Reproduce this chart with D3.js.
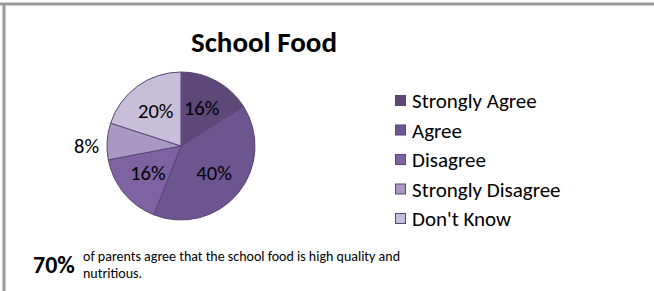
<!DOCTYPE html>
<html>
<head>
<meta charset="utf-8">
<script src="https://cdnjs.cloudflare.com/ajax/libs/d3/7.8.5/d3.min.js"></script>
<style>
  body { margin: 0; background: #fff; }
  text { font-family: Carlito, Lato, "Open Sans", sans-serif; }
</style>
</head>
<body>
<div id="chart"></div>
<script>
var categories = ["Strongly Agree", "Agree", "Disagree", "Strongly Disagree", "Don't Know"],
    values = [16, 40, 16, 8, 20],
    colors = ["#5e4878", "#6d5590", "#7e62a2", "#a898c2", "#c7bed9"];

var width = 654,
    height = 291,
    svg = d3.select('#chart')
        .append('svg')
        .attr('width', width)
        .attr('height', height);

// frame lines top and left
svg.append('line')
    .attr('x1', 0).attr('x2', width).attr('y1', 4).attr('y2', 4)
    .attr('stroke', '#9a9a9a').attr('stroke-width', 3);
svg.append('line')
    .attr('x1', 4).attr('x2', 4).attr('y1', 3).attr('y2', height)
    .attr('stroke', '#9a9a9a').attr('stroke-width', 3);

svg.append('text')
    .attr('x', 264).attr('y', 52)
    .attr('text-anchor', 'middle')
    .style('font-size', '29px')
    .style('font-weight', 'bold')
    .text('School Food');

var cx = 181, cy = 146, radius = 74;

var pie = d3.pie().sort(null).value(function (d) { return d; }),
    arcs = pie(values),
    arc = d3.arc().innerRadius(0).outerRadius(radius),
    labelArc = d3.arc().innerRadius(radius * 0.58).outerRadius(radius * 0.58);

var g = svg.append('g').attr('transform', 'translate(' + cx + ',' + cy + ')');

g.selectAll('path')
    .data(arcs)
    .enter()
    .append('path')
    .attr('d', arc)
    .attr('fill', function (d, i) { return colors[i]; })
    .attr('stroke', '#5a4577')
    .attr('stroke-width', 1);

g.selectAll('text.lbl')
    .data(arcs)
    .enter()
    .append('text')
    .classed('lbl', true)
    .style('font-size', '20.5px')
    .attr('dominant-baseline', 'central')
    .attr('text-anchor', function (d) { return d.data < 10 ? 'end' : 'middle'; })
    .attr('transform', function (d) {
        if (d.data < 10) {
            var a = (d.startAngle + d.endAngle) / 2;
            return 'translate(' + (Math.sin(a) * (radius + 8)) + ',0)';
        }
        var c = labelArc.centroid(d);
        return 'translate(' + c[0] + ',' + c[1] + ')';
    })
    .text(function (d) { return d.data + '%'; });

// legend
var legend = svg.append('g').attr('transform', 'translate(395,101)');
var rows = legend.selectAll('g')
    .data(categories)
    .enter()
    .append('g')
    .attr('transform', function (d, i) { return 'translate(0,' + (i * 29.5) + ')'; });

rows.append('rect')
    .attr('x', 0.5).attr('y', -5.5)
    .attr('width', 10).attr('height', 10)
    .attr('fill', function (d, i) { return colors[i]; })
    .attr('stroke', '#5a4577')
    .attr('stroke-width', 1);

rows.append('text')
    .attr('x', 17).attr('y', 0)
    .attr('dominant-baseline', 'central')
    .style('font-size', '21px')
    .text(function (d) { return d; });

// footnote
svg.append('text')
    .attr('x', 33).attr('y', 273)
    .style('font-size', '24px')
    .style('font-weight', 'bold')
    .text('70%');

svg.append('text')
    .attr('x', 83).attr('y', 261)
    .style('font-size', '14px')
    .text('of parents agree that the school food is high quality and');

svg.append('text')
    .attr('x', 83).attr('y', 278)
    .style('font-size', '14px')
    .text('nutritious.');
</script>
</body>
</html>
